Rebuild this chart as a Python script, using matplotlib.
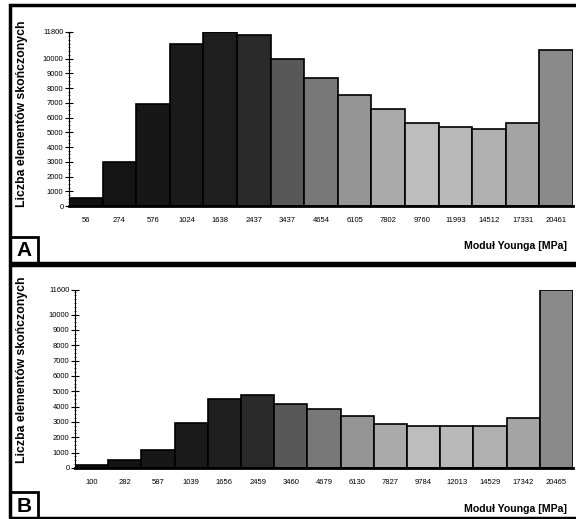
import matplotlib.pyplot as plt
from matplotlib.patches import Rectangle
import numpy as np

plt.rcParams['font.family'] = ['Liberation Sans', 'DejaVu Sans']

# panel A
moduli_a = ['56', '274', '576', '1024', '1638', '2437', '3437', '4654', '6105',
            '7802', '9760', '11993', '14512', '17331', '20461']
counts_a = [550, 3000, 6900, 11000, 11800, 11600, 10000, 8700, 7500,
            6600, 5650, 5330, 5220, 5650, 10600]

# panel B
moduli_b = ['100', '282', '587', '1039', '1656', '2459', '3460', '4679', '6130',
            '7827', '9784', '12013', '14529', '17342', '20465']
counts_b = [170, 520, 1190, 2920, 4500, 4760, 4180, 3830, 3400,
            2870, 2720, 2720, 2720, 3250, 11600]

shades = ['#101010', '#141414', '#171717', '#1a1a1a', '#1e1e1e', '#2a2a2a',
          '#585858', '#787878', '#959595', '#aaaaaa', '#bdbdbd', '#b9b9b9',
          '#b0b0b0', '#a4a4a4', '#8a8a8a']

W, H = 576, 519
fig = plt.figure(figsize=(W / 100, H / 100), dpi=100)


def px_axes(x0, y0, x1, y1):
    return fig.add_axes([x0 / W, 1 - y1 / H, (x1 - x0) / W, (y1 - y0) / H])


def draw_panel(ax, labels, counts, top, letter, frame):
    x = np.arange(len(counts))
    ax.bar(x, counts, width=1.0, color=shades, edgecolor='#000000', linewidth=1.2)
    ax.set_xlim(-0.5, len(counts) - 0.5)
    ax.set_ylim(0, top)
    ax.set_xticks(x)
    ax.set_xticklabels(labels, fontsize=5.5)
    ax.tick_params(axis='x', length=0, pad=8)
    ax.set_yticks(list(range(0, 11000, 1000)) + [top])
    ax.set_yticklabels([str(v) for v in range(0, 11000, 1000)] + [str(top)], fontsize=5.5)
    ax.set_yticks(np.arange(0, top, 250), minor=True)
    ax.tick_params(axis='y', direction='inout', length=6, width=0.8, pad=1)
    ax.tick_params(axis='y', which='minor', direction='inout', length=2, width=0.5)
    for s in ['top', 'right']:
        ax.spines[s].set_visible(False)
    ax.spines['left'].set_linewidth(0.8)
    ax.spines['bottom'].set_linewidth(2)
    ax.set_ylabel('Liczba elementów skończonych', fontsize=8.8, fontweight='bold')
    ax.set_xlabel('Moduł Younga [MPa]', fontsize=7.6, fontweight='bold')
    ax.xaxis.set_label_coords(0.885, -0.2)

    # frame around panel and letter box
    fx0, fy0, fx1, fy1 = frame
    fig.patches.append(Rectangle((fx0 / W, 1 - fy1 / H), (fx1 - fx0) / W, (fy1 - fy0) / H,
                                 transform=fig.transFigure, fill=False,
                                 edgecolor='black', linewidth=2.5))
    fig.patches.append(Rectangle((fx0 / W, 1 - fy1 / H), 28 / W, 26 / H,
                                 transform=fig.transFigure, fill=False,
                                 edgecolor='black', linewidth=2.0))
    fig.text((fx0 + 14) / W, 1 - (fy1 - 12) / H, letter, fontsize=15,
             fontweight='bold', ha='center', va='center')


ax_a = px_axes(69, 32, 573, 206)
draw_panel(ax_a, moduli_a, counts_a, 11800, 'A', (10, 5, 580, 263))
ax_a.yaxis.set_label_coords(-0.081, 0.53)

ax_b = px_axes(75, 290, 573, 468)
draw_panel(ax_b, moduli_b, counts_b, 11600, 'B', (10, 265, 580, 518))
ax_b.yaxis.set_label_coords(-0.094, 0.55)

fig.savefig('out.png', dpi=100)
